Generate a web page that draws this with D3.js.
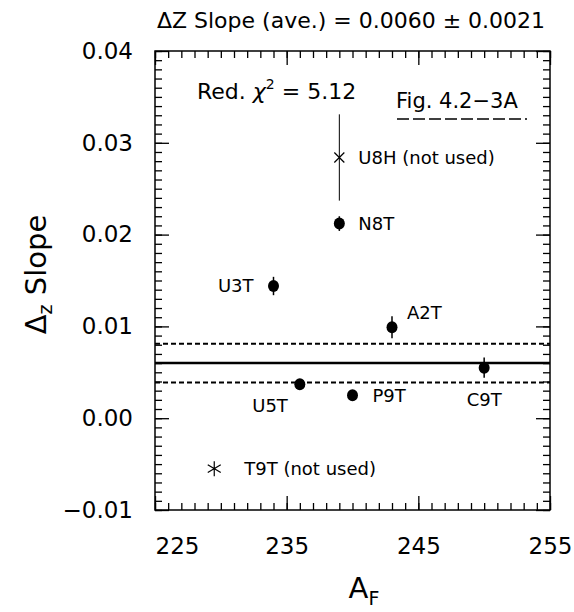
<!DOCTYPE html>
<html><head><meta charset="utf-8">
<script src="https://cdn.jsdelivr.net/npm/d3@7"></script>
<style>
body{margin:0;background:#fff}
svg{display:block}
text{font-family:"DejaVu Sans",sans-serif;fill:#000}
</style>
</head><body>
<svg id="c" width="574" height="612"></svg>
<script>
// ---- data ----
const targets  = ["U8H","N8T","U3T","A2T","U5T","P9T","C9T","T9T"];
const notes    = [" (not used)","","","","","",""," (not used)"];
const aF       = [239, 239, 234, 243, 236, 240, 250, 229.5];
const slope    = [0.0284, 0.0212, 0.0144, 0.0099, 0.0037, 0.0025, 0.0055, -0.0055];
const slopeErr = [0.0047, 0.0008, 0.0010, 0.0012, 0.0005, 0.0005, 0.0011, 0];
const aveSlope = 0.0060, aveErr = 0.0021;
const redChi2 = "5.12";
const xTicks = [225, 235, 245, 255];
const yTicks = [-0.01, 0.00, 0.01, 0.02, 0.03, 0.04];
const xTickLabels = ["225","235","245","255"];
const yTickLabels = ["\u22120.01","0.00","0.01","0.02","0.03","0.04"];

// ---- styling / layout ----
const markerType = {U8H:"cross", T9T:"asterisk"};
const labelPlace = { // dx, dy, anchor
  U8H:[19,0,"start"], N8T:[19,0,"start"], U3T:[-20,0,"end"], A2T:[15,-15,"start"],
  U5T:[-12,21,"end"], P9T:[20,0,"start"], C9T:[0,32,"middle"], T9T:[30,0,"start"]
};
const L = 155, R = 550, T = 51, B = 510;

const svg = d3.select("#c");
const x = d3.scaleLinear().domain([225,255]).range([L,R]);
const y = d3.scaleLinear().domain([-0.01,0.04]).range([B,T]);

// ---- ticks (inward on all four sides) ----
const xMinor = d3.range(225,256,1), yMinor = d3.range(-10,41,1).map(v=>v/1000);
function tickGroup(axis, tr){
  const g = svg.append("g").attr("transform",tr).call(axis);
  g.select(".domain").remove();
  g.selectAll("line").attr("stroke","#000").attr("stroke-width",1.3);
  g.selectAll("text").remove();
  return g;
}
tickGroup(d3.axisBottom(x).tickValues(xMinor).tickSize(-7), `translate(0,${B})`);
tickGroup(d3.axisBottom(x).tickValues(xTicks).tickSize(-14), `translate(0,${B})`);
tickGroup(d3.axisTop(x).tickValues(xMinor).tickSize(-7), `translate(0,${T})`);
tickGroup(d3.axisTop(x).tickValues(xTicks).tickSize(-14), `translate(0,${T})`);
tickGroup(d3.axisLeft(y).tickValues(yMinor).tickSize(-7), `translate(${L},0)`);
tickGroup(d3.axisLeft(y).tickValues(yTicks).tickSize(-14), `translate(${L},0)`);
tickGroup(d3.axisRight(y).tickValues(yMinor).tickSize(-7), `translate(${R},0)`);
tickGroup(d3.axisRight(y).tickValues(yTicks).tickSize(-14), `translate(${R},0)`);

// frame
svg.append("rect").attr("x",L).attr("y",T).attr("width",R-L).attr("height",B-T)
  .attr("fill","none").attr("stroke","#000").attr("stroke-width",1.5);

// tick labels
const yl = svg.append("g").attr("transform",`translate(${L},0)`)
  .call(d3.axisLeft(y).tickValues(yTicks).tickSize(0).tickPadding(22)
    .tickFormat((d,i)=>yTickLabels[i]));
yl.select(".domain").remove();
yl.selectAll("text").attr("font-size",23).attr("font-family","DejaVu Sans").attr("fill","#000");

const xl = svg.append("g").attr("transform",`translate(0,${B})`)
  .call(d3.axisBottom(x).tickValues(xTicks).tickSize(0).tickPadding(28)
    .tickFormat((d,i)=>xTickLabels[i]));
xl.select(".domain").remove();
xl.selectAll("text").attr("font-size",23).attr("font-family","DejaVu Sans").attr("fill","#000");
xl.selectAll("text").filter(d=>d===225).attr("text-anchor","start").attr("x",0);

// average lines
svg.append("line").attr("x1",L).attr("x2",R).attr("y1",y(aveSlope)).attr("y2",y(aveSlope))
  .attr("stroke","#000").attr("stroke-width",2.5);
[aveSlope+aveErr, aveSlope-aveErr].forEach(v=>{
  svg.append("line").attr("x1",L).attr("x2",R).attr("y1",y(v)).attr("y2",y(v))
    .attr("stroke","#000").attr("stroke-width",2).attr("stroke-dasharray","5,3");
});

// points
targets.forEach((t,i)=>{
  const cx = x(aF[i]), cy = y(slope[i]);
  const type = markerType[t] || "dot";
  if (slopeErr[i] > 0) {
    svg.append("line").attr("x1",cx).attr("x2",cx)
      .attr("y1",y(slope[i]-slopeErr[i])).attr("y2",y(slope[i]+slopeErr[i]))
      .attr("stroke","#000").attr("stroke-width", type==="dot"?1.5:1);
  }
  if (type==="dot") {
    svg.append("ellipse").attr("cx",cx).attr("cy",cy).attr("rx",5.5).attr("ry",6).attr("fill","#000");
  } else if (type==="cross") {
    const s=5;
    svg.append("path").attr("d",`M${cx-s},${cy-s}L${cx+s},${cy+s}M${cx-s},${cy+s}L${cx+s},${cy-s}`)
      .attr("stroke","#000").attr("stroke-width",1.2).attr("fill","none");
  } else {
    const s=6.5;
    svg.append("path").attr("d",`M${cx},${cy-s-1}L${cx},${cy+s+1}M${cx-s},${cy-s*0.6}L${cx+s},${cy+s*0.6}M${cx-s},${cy+s*0.6}L${cx+s},${cy-s*0.6}`)
      .attr("stroke","#000").attr("stroke-width",1.2).attr("fill","none");
  }
  const p = labelPlace[t];
  svg.append("text").attr("x",cx+p[0]).attr("y",cy+p[1]).attr("dy","0.36em")
    .attr("text-anchor",p[2]).attr("font-size",18).text(t+notes[i]);
});

// title
const title = svg.append("text").attr("x",351).attr("y",28).attr("text-anchor","middle").attr("font-size",22);
title.text(`\u0394Z Slope (ave.) = ${aveSlope.toFixed(4)} \u00b1 ${aveErr.toFixed(4)}`);

// Red. chi^2
const chi = svg.append("text").attr("x",197).attr("y",99).attr("font-size",22);
chi.append("tspan").text("Red. ");
chi.append("tspan").attr("font-style","italic").text("\u03c7");
chi.append("tspan").attr("dy",-10).attr("font-size",14).text("2");
chi.append("tspan").attr("dy",10).text(" = " + redChi2);

// Fig label
svg.append("text").attr("x",396).attr("y",108).attr("font-size",21).text("Fig. 4.2\u22123A");
svg.append("line").attr("x1",397).attr("x2",527).attr("y1",119).attr("y2",119)
  .attr("stroke","#000").attr("stroke-width",1.5).attr("stroke-dasharray","12,4");

// axis titles
const yt = svg.append("text").attr("transform",`translate(46,${(T+B)/2 - 6}) rotate(-90)`)
  .attr("text-anchor","middle").attr("font-size",29);
yt.append("tspan").text("\u0394");
yt.append("tspan").attr("dy",6).attr("font-size",19).text("z");
yt.append("tspan").attr("dy",-6).text(" Slope");

const xt = svg.append("text").attr("x",364).attr("y",598).attr("text-anchor","middle").attr("font-size",29);
xt.append("tspan").text("A");
xt.append("tspan").attr("dy",7).attr("font-size",19).text("F");
</script>
</body></html>
